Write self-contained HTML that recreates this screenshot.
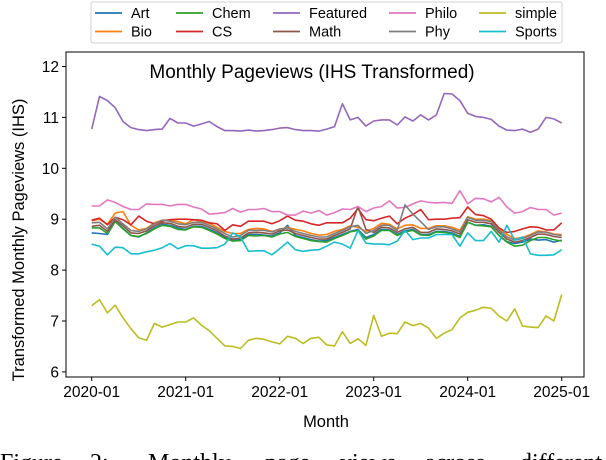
<!DOCTYPE html>
<html><head><meta charset="utf-8"><style>
html,body{margin:0;padding:0;background:#fff;overflow:hidden}
svg{display:block;font-family:"Liberation Sans","DejaVu Sans",sans-serif}
</style></head><body>
<svg id="chart" width="606" height="460" viewBox="0 0 606 460" xmlns="http://www.w3.org/2000/svg">
<g id="axes"></g>
<g id="series"></g>
<g id="legend"></g>
<text x="312" y="78" font-size="19" text-anchor="middle" fill="#000">Monthly Pageviews (IHS Transformed)</text>
<text x="326" y="427" font-size="16.5" text-anchor="middle" fill="#000">Month</text>
<text transform="translate(24,240) rotate(-90)" font-size="16.5" text-anchor="middle" fill="#000">Transformed Monthly Pageviews (IHS)</text>
<g font-size="24" font-family="Liberation Serif, serif" fill="#000">
<text x="0" y="470">Figure</text><text x="90" y="470">2:</text><text x="148" y="470">Monthly</text><text x="265" y="470">page</text><text x="340" y="470">views</text><text x="425" y="470">across</text><text x="520" y="470">different</text>
</g>
</svg>
<script>
const seriesNames = ["Art","Bio","Chem","CS","Featured","Math","Philo","Phy","simple","Sports"];
const seriesColors = ["#1f77b4","#ff7f0e","#2ca02c","#d62728","#9467bd","#8c564b","#e377c2","#7f7f7f","#bcbd22","#17becf"];
const yTicks = [6,7,8,9,10,11,12];
const xTickLabels = ["2020-01","2021-01","2022-01","2023-01","2024-01","2025-01"];
const art = [8.73,8.72,8.70,8.96,8.82,8.68,8.65,8.73,8.83,8.90,8.88,8.83,8.80,8.86,8.86,8.80,8.73,8.64,8.58,8.60,8.70,8.70,8.69,8.67,8.73,8.88,8.68,8.64,8.60,8.57,8.58,8.64,8.70,8.76,8.80,8.64,8.70,8.80,8.79,8.70,8.77,8.80,8.70,8.70,8.76,8.76,8.73,8.66,8.94,8.88,8.89,8.86,8.68,8.56,8.52,8.55,8.61,8.59,8.60,8.55,8.59];
const bio = [8.97,9.00,8.90,9.12,9.15,8.88,8.79,8.82,8.93,8.98,8.98,8.95,8.91,8.99,8.96,8.92,8.84,8.76,8.72,8.72,8.80,8.82,8.81,8.76,8.80,8.84,8.80,8.77,8.72,8.69,8.70,8.76,8.80,8.87,8.84,8.76,8.82,8.92,8.90,8.81,8.88,8.89,8.82,8.82,8.87,8.87,8.84,8.78,9.05,9.00,9.00,8.97,8.81,8.70,8.62,8.64,8.70,8.77,8.75,8.71,8.70];
const chem = [8.83,8.83,8.72,8.95,8.81,8.68,8.66,8.72,8.81,8.88,8.86,8.80,8.79,8.85,8.84,8.78,8.71,8.62,8.57,8.58,8.68,8.67,8.68,8.65,8.71,8.74,8.66,8.62,8.58,8.56,8.55,8.62,8.68,8.75,8.78,8.61,8.67,8.78,8.78,8.68,8.75,8.78,8.69,8.68,8.75,8.74,8.71,8.64,8.94,8.88,8.87,8.85,8.68,8.55,8.47,8.49,8.58,8.64,8.64,8.60,8.57];
const cs = [8.98,9.02,8.89,9.04,8.99,8.89,9.06,8.96,8.91,8.96,8.99,9.00,9.00,8.99,8.98,8.93,8.91,8.78,8.89,8.86,8.96,8.96,8.96,8.91,8.97,9.06,8.98,8.96,8.91,8.88,8.93,8.93,8.93,9.02,9.21,8.99,8.97,9.02,9.06,8.91,9.02,9.09,9.19,8.99,9.00,9.00,9.02,9.03,9.24,9.09,9.07,9.00,8.83,8.74,8.76,8.81,8.85,8.84,8.79,8.79,8.93];
const featured = [10.77,11.41,11.33,11.19,10.92,10.80,10.76,10.74,10.76,10.77,10.98,10.89,10.89,10.83,10.87,10.92,10.82,10.74,10.74,10.73,10.75,10.73,10.74,10.76,10.79,10.80,10.76,10.74,10.74,10.73,10.77,10.82,11.27,10.95,11.00,10.83,10.93,10.95,10.95,10.85,11.01,10.93,11.05,10.95,11.05,11.47,11.46,11.33,11.08,11.02,11.00,10.96,10.83,10.75,10.74,10.77,10.71,10.77,11.00,10.97,10.89];
const math = [8.86,8.88,8.76,8.99,8.87,8.73,8.72,8.77,8.87,8.93,8.92,8.86,8.84,8.90,8.90,8.84,8.77,8.67,8.61,8.63,8.73,8.74,8.73,8.71,8.77,8.79,8.72,8.68,8.64,8.61,8.61,8.68,8.74,8.81,9.25,8.80,8.74,8.84,8.83,8.74,8.81,8.84,8.74,8.74,8.81,8.80,8.77,8.71,8.99,8.94,8.94,8.91,8.74,8.61,8.55,8.58,8.64,8.71,8.70,8.66,8.64];
const philo = [9.26,9.26,9.38,9.33,9.25,9.19,9.19,9.30,9.29,9.29,9.26,9.29,9.29,9.24,9.20,9.10,9.11,9.13,9.21,9.14,9.19,9.19,9.21,9.15,9.15,9.08,9.08,9.16,9.12,9.17,9.08,9.13,9.20,9.19,9.25,9.15,9.22,9.25,9.36,9.22,9.23,9.30,9.36,9.33,9.32,9.33,9.31,9.56,9.30,9.41,9.40,9.34,9.43,9.24,9.12,9.15,9.23,9.19,9.19,9.08,9.12];
const phy = [8.93,8.94,8.81,9.04,8.91,8.78,8.76,8.81,8.91,8.98,8.96,8.91,8.89,8.94,8.94,8.88,8.81,8.72,8.65,8.68,8.78,8.78,8.78,8.75,8.81,8.83,8.76,8.72,8.68,8.65,8.65,8.72,8.78,8.85,8.88,8.72,8.78,8.88,8.88,8.78,9.28,9.10,8.95,8.80,8.85,8.85,8.81,8.75,9.04,8.98,8.98,8.95,8.78,8.65,8.59,8.62,8.68,8.75,8.74,8.70,8.68];
const simple = [7.30,7.42,7.16,7.31,7.06,6.85,6.67,6.62,6.95,6.88,6.93,6.98,6.98,7.06,6.92,6.81,6.66,6.51,6.50,6.46,6.62,6.66,6.64,6.59,6.55,6.70,6.66,6.56,6.66,6.68,6.53,6.51,6.79,6.56,6.65,6.52,7.11,6.70,6.76,6.75,6.98,6.91,6.95,6.86,6.66,6.76,6.83,7.06,7.17,7.21,7.27,7.25,7.10,7.00,7.24,6.90,6.88,6.87,7.10,7.00,7.52];
const sports = [8.51,8.47,8.30,8.45,8.44,8.32,8.32,8.36,8.39,8.44,8.52,8.42,8.48,8.48,8.43,8.43,8.44,8.51,8.73,8.65,8.37,8.38,8.38,8.30,8.42,8.55,8.40,8.37,8.39,8.40,8.47,8.55,8.51,8.43,8.78,8.53,8.51,8.51,8.50,8.57,8.78,8.60,8.63,8.63,8.70,8.70,8.70,8.47,8.73,8.58,8.58,8.76,8.55,8.88,8.59,8.65,8.32,8.29,8.29,8.30,8.40];
const allSeries = [art,bio,chem,cs,featured,math,philo,phy,simple,sports];

const NS = "http://www.w3.org/2000/svg";
const L = 66, R = 584, T = 52, B = 377;
function xScale(i){ return 91.7 + i * (561.7 - 91.7) / 60; }
function yScale(v){ return 66.5 + (12 - v) * 50.9; }
function mk(tag, attrs, parent){ const e = document.createElementNS(NS, tag); for (const k in attrs) e.setAttribute(k, attrs[k]); parent.appendChild(e); return e; }

const axes = document.getElementById('axes');
const frame = mk('rect', {x:L, y:T, width:R-L, height:B-T, fill:'none', stroke:'#000', 'stroke-width':1}, axes);


yTicks.forEach(v => {
  const y = yScale(v);
  const t = mk('line', {x1:L-4, x2:L, y1:y, y2:y, stroke:'#000'}, axes);
  
  
  const lab = mk('text', {x:L-7, y:y+5.5, 'font-size':15.5, 'text-anchor':'end', fill:'#000'}, axes);
  lab.textContent = v;
  
  
});
xTickLabels.forEach((s, k) => {
  const x = xScale(k * 12);
  const t = mk('line', {x1:x, x2:x, y1:B, y2:B+4, stroke:'#000'}, axes);
  
  
  const lab = mk('text', {x:x, y:B+20, 'font-size':15.5, 'text-anchor':'middle', fill:'#000'}, axes);
  lab.textContent = s;
  
  
});

const sg = document.getElementById('series');
allSeries.forEach((arr, si) => {
  const pts = arr.map((v, i) => xScale(i).toFixed(1) + ',' + yScale(v).toFixed(1)).join(' ');
  const pl = mk('polyline', {points:pts, fill:'none', stroke:seriesColors[si], 'stroke-width':1.6, 'stroke-linejoin':'round'}, sg);
  
  
});

const lg = document.getElementById('legend');
const box = mk('rect', {x:91, y:2, width:471, height:41, rx:2, fill:'#fff', stroke:'#d0d0d0'}, lg);


const colX = [95, 176, 273, 389, 479];
seriesNames.forEach((n, i) => {
  const c = Math.floor(i / 2), r = i % 2;
  const y = 13 + r * 18.5;
  const g = mk('g', {}, lg);
  
  
  mk('line', {x1:colX[c], x2:colX[c]+27, y1:y, y2:y, stroke:seriesColors[i], 'stroke-width':1.8}, g);
  const t = mk('text', {x:colX[c]+36, y:y+5, 'font-size':14.5, fill:'#000'}, g);
  t.textContent = n;
});
</script>
</body></html>
